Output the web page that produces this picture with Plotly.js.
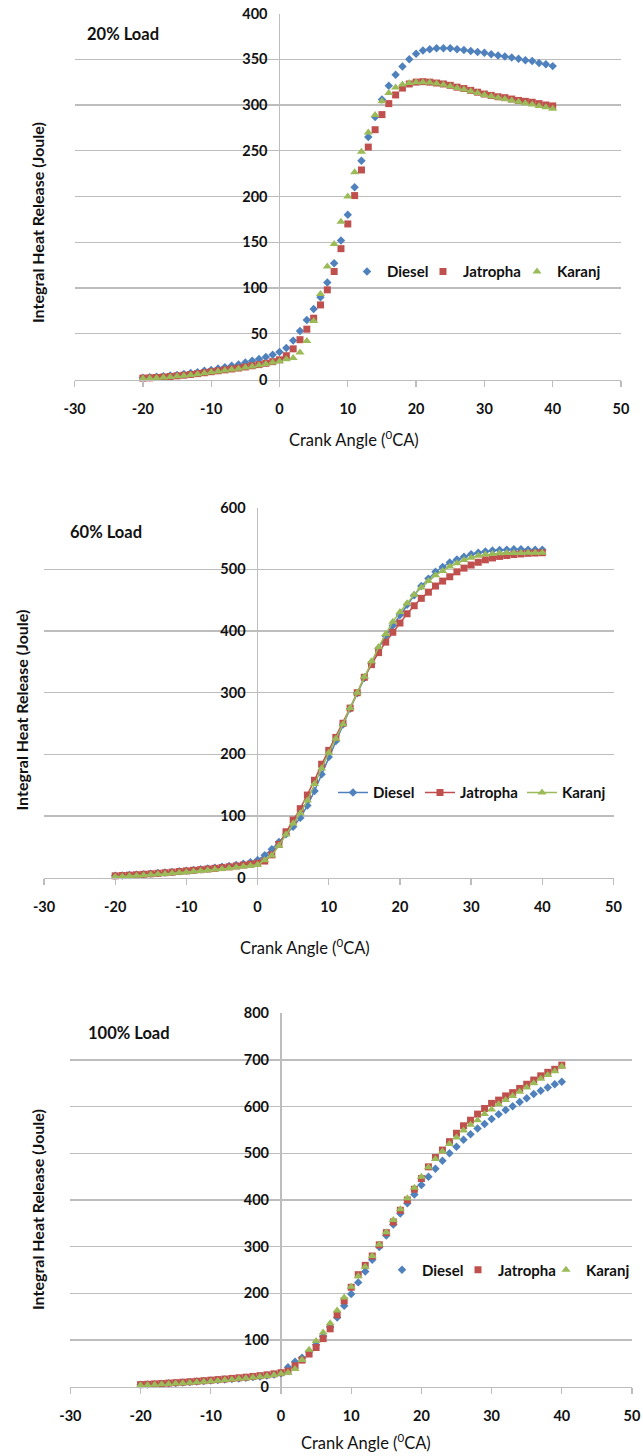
<!DOCTYPE html>
<html><head><meta charset="utf-8">
<script src="https://cdn.plot.ly/plotly-3.0.1.min.js"></script>
<style>html,body{margin:0;padding:0;background:#fff}#chart{width:643px;height:1456px}</style>
</head><body><div id="chart"></div>
<script>
// Crank angle (deg CA)
const crankAngle = [-20,-19,-18,-17,-16,-15,-14,-13,-12,-11,-10,-9,-8,-7,-6,-5,-4,-3,-2,-1,
  0,1,2,3,4,5,6,7,8,9,10,11,12,13,14,15,16,17,18,19,20,21,22,23,24,25,26,27,28,29,30,
  31,32,33,34,35,36,37,38,39,40];

const seriesNames = ["Diesel", "Jatropha", "Karanj"];
const panelLabels = ["20% Load", "60% Load", "100% Load"];
const xTicks = [-30,-20,-10,0,10,20,30,40,50];

// 20% load
const diesel20 = [2,2.5,3,3.5,4.5,5,6,7,8,9.5,10.5,12,13.5,15,16.5,18.5,20.5,22.5,24.5,27,
  30,34.5,42.5,53,65,77,90,106,127,152,180,210,239,265,287,306,321,333,342,350,356,359.5,361,362,362,362,
  361,360,359,358,357,355.5,354,353,352,350.5,349,348,346,344.5,342.5];
const jatropha20 = [1.5,1.8,2.2,2.7,3.3,4,4.7,5.5,6.4,7.4,8.5,9.5,10.5,11.5,12.5,13.7,15,16.3,17.7,19.5,
  21.5,26,33.5,43.5,55,67,81.5,98,118,143,170,201,229,254,273,289.5,301.5,311,318.5,323,325,325.5,325,324,323,321.5,
  319.5,318,316,314,312,310.5,309,308,306.5,305,304,303,301.5,300,299];
const karanj20 = [1,1.3,1.7,2.2,2.8,3.5,4.2,5,5.8,6.8,7.8,8.8,9.8,10.8,11.8,13,14.2,15.5,17,18.5,
  20,22,23.5,29.5,42,64,93.5,123.5,148,172.5,200,226.5,249,270,289,304,313,319,322.5,324,325,325,324.5,323.5,322,320.5,
  318.5,317,315,313,311,309.5,308,306.5,305,303.5,302,300.5,299,297.5,296];

// 60% load
const diesel60 = [3,3.6,4.3,5,5.8,6.6,7.5,8.4,9.4,10.4,11.5,12.6,13.8,15,16.3,17.6,19,20.6,22.5,25,
  28.6,36.6,46,58,70.6,82.5,97,117,140.7,167.6,195.7,221.5,248.5,274,299,324,347,372,392,409,426,442.5,458,473,485,496,
  504,511,516,520.5,524.5,527,529,530.5,531.5,532,532.5,532.5,532,532,532];
const jatropha60 = [3,3.5,4.1,4.8,5.5,6.3,7.1,8,9,10,11,12,13,14.1,15.2,16.4,17.6,19,20.5,22,
  23.5,27,37,54,74.5,93.5,112,134,158,184,206.5,227.5,250.5,275,300,325,345.5,365,382,398,413,428,441,453,463,473,
  481,488,496,502,507,511.5,515.5,518.5,521,522.5,524,525,526,526.5,527];
const karanj60 = [1.5,2,2.6,3.2,3.9,4.6,5.4,6.2,7.1,8,9,10,11,12,13.1,14.3,15.5,16.8,18.2,19.5,
  21,28.5,36,52,70,88,104.5,125,152,177,202.5,225.5,249,275,300,326,351,374,395,415,431,445,459,470.5,481,490.5,
  497.5,504.5,510,515,519,522,524,525,526,526.5,526.5,526.5,527,527,527];

// 100% load
const diesel100 = [4,4.7,5.5,6.3,7.2,8.1,9,10,11,12,13.1,14.2,15.3,16.5,17.7,19,20.5,22,24,26,
  29,41.5,53.5,62,75,90,108,128,148,173.5,198.5,223.5,247,272,299.5,324,347.5,371,393,412,432,450,467,484,500,514,
  529,541,553,563,573.5,583.5,593,601,610,618,627,634,641,648,653.5];
const jatropha100 = [4.5,5.2,6,6.8,7.7,8.6,9.6,10.6,11.7,12.8,14,15.2,16.4,17.7,19,20.4,22,23.6,25.4,27.5,
  30,33.5,45,57,70,84,103,124,154,184,213,240,260,280,304,330,353,378,400,423,446,471,491,507,525,543,
  559,571,584,596,607,614,623,630,639,648,657,666,673.5,680,689];
const karanj100 = [3,3.6,4.3,5,5.8,6.6,7.5,8.5,9.5,10.6,11.8,13,14.2,15.5,16.8,18.2,19.7,21.3,23,25,
  27.5,30,38,57,79,98,116,136,163,191,214,236.5,257,280,304.5,331,357,380,404,426,450,470,488,504,520,534,
  549,561,571,584,594,605,614,623,632,641,650,660,668,676,686];

const panelData = [
  [diesel20, jatropha20, karanj20],
  [diesel60, jatropha60, karanj60],
  [diesel100, jatropha100, karanj100]
];

const W = 643, H = 1456;
const colors = ["#4F81BD", "#C0504D", "#9BBB59"];
const symbols = ["diamond", "square", "triangle-up"];
const msizes = [6.5, 7, 8];
const FONT = "Lato, 'Open Sans', 'DejaVu Sans', sans-serif";
const GRID = "#bdbdbd";

// pixel geometry of each plot area: [left,right],[top,bottom]; legM = legend symbol centres
const geo = [
  {xp:[74.6,621], yp:[13.5,379.5], yr:[0,400], dt:50, mode:"markers",
   lab:[85,34], ytit:[37,223], xtit:[354,439], legM:[367,443,537], legY:271.7},
  {xp:[44,613.5], yp:[507.7,877.7], yr:[0,600], dt:100, mode:"lines+markers",
   lab:[68,532], ytit:[20.5,710], xtit:[305,947], legM:[353,440,542], legY:792.7},
  {xp:[70.4,632], yp:[1013.3,1386.7], yr:[0,800], dt:100, mode:"markers",
   lab:[86,1033], ytit:[37,1210], xtit:[366,1442], legM:[402,478,566], legY:1270}
];

const fx = p => p / W;
const fy = p => 1 - p / H;

const traces = [];
const layout = {
  width: W, height: H,
  margin: {l:0, r:0, t:0, b:0},
  paper_bgcolor: "#fff", plot_bgcolor: "rgba(0,0,0,0)",
  font: {family: FONT, color: "#111"},
  annotations: [],
  showlegend: true
};

let legIdx = 0;
geo.forEach((g, i) => {
  const sfx = i === 0 ? "" : String(i + 1);
  panelData[i].forEach((vals, s) => {
    legIdx += 1;
    const legName = legIdx === 1 ? "legend" : "legend" + legIdx;
    traces.push({
      type: "scatter", mode: g.mode,
      name: seriesNames[s],
      x: crankAngle, y: vals,
      xaxis: "x" + sfx, yaxis: "y" + sfx,
      legend: legName,
      marker: {symbol: symbols[s], size: msizes[s], color: colors[s]},
      line: {color: colors[s], width: 1.5},
      cliponaxis: false
    });
    layout[legName] = {
      orientation: "h", x: fx(g.legM[s] - 20), xanchor: "left",
      y: fy(g.legY), yanchor: "middle",
      bgcolor: "rgba(0,0,0,0)",
      font: {family: FONT, size: 15, color: "#111", weight: "bold"},
      itemwidth: 30
    };
  });
  const xd = [fx(g.xp[0]), fx(g.xp[1])];
  const yd = [fy(g.yp[1]), fy(g.yp[0])];
  const ypos = xd[0] + (0 - (-30)) / 80 * (xd[1] - xd[0]);
  layout["xaxis" + sfx] = {
    domain: xd, range: [-30, 50], tickvals: xTicks, ticktext: xTicks.map(String),
    anchor: "y" + sfx, showgrid: false,
    zeroline: true, zerolinecolor: GRID, zerolinewidth: 1.3,
    showline: true, linecolor: GRID, linewidth: 1.3,
    ticks: "outside", ticklen: 6, tickcolor: GRID, tickwidth: 1.3,
    ticklabelstandoff: 10,
    tickfont: {family: FONT, size: 14.5, color: "#111", weight: "bold"},
    fixedrange: true
  };
  layout["yaxis" + sfx] = {
    domain: yd, range: g.yr, dtick: g.dt, anchor: "free", position: ypos,
    showgrid: true, gridcolor: GRID, gridwidth: 1.3,
    zeroline: false, showline: false, ticks: "",
    ticklabelstandoff: 12,
    tickfont: {family: FONT, size: 14.5, color: "#111", weight: "bold"},
    fixedrange: true
  };
  layout.annotations.push({
    text: panelLabels[i], xref: "paper", yref: "paper",
    x: fx(g.lab[0]), y: fy(g.lab[1]), xanchor: "left", yanchor: "middle",
    showarrow: false, font: {family: FONT, size: 16.5, color: "#111", weight: "bold"}
  });
  layout.annotations.push({
    text: "Integral Heat Release (Joule)", textangle: -90,
    xref: "paper", yref: "paper", x: fx(g.ytit[0]), y: fy(g.ytit[1]),
    xanchor: "center", yanchor: "middle", showarrow: false,
    font: {family: FONT, size: 16, color: "#111", weight: "bold"}
  });
  layout.annotations.push({
    text: "Crank Angle (<sup>0</sup>CA)",
    xref: "paper", yref: "paper", x: fx(g.xtit[0]), y: fy(g.xtit[1]),
    xanchor: "center", yanchor: "middle", showarrow: false,
    font: {family: FONT, size: 16.5, color: "#111"}
  });
});

Plotly.newPlot("chart", traces, layout, {displayModeBar: false, staticPlot: true});
</script>
</body></html>
